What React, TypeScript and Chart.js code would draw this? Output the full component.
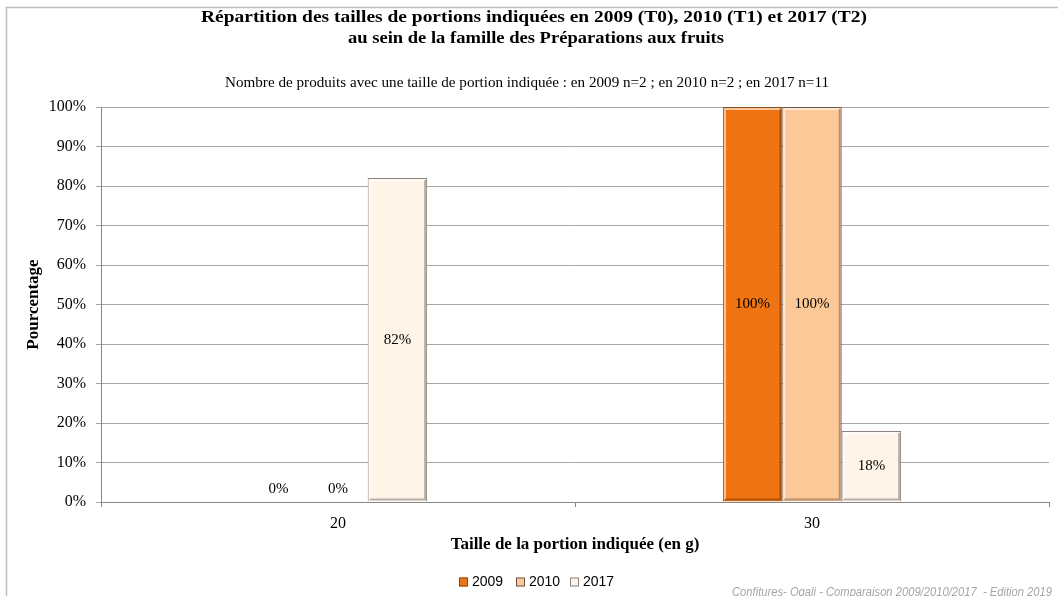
import { useEffect, useRef } from "react";
import { Chart, registerables } from "chart.js";

Chart.register(...registerables);

const categories = ["20", "30"];
const seriesLabels = ["2009", "2010", "2017"];
const values2009 = [0, 100];
const values2010 = [0, 100];
const values2017 = [82, 18];
const yTickValues = [0, 10, 20, 30, 40, 50, 60, 70, 80, 90, 100];
const titleLines = [
  "Répartition des tailles de portions indiquées en 2009 (T0), 2010 (T1) et 2017 (T2)",
  "au sein de la famille des Préparations aux fruits",
];
const subtitleText =
  "Nombre de produits avec une taille de portion indiquée : en 2009 n=2 ; en 2010 n=2 ; en 2017 n=11";
const footerText = "Confitures- Oqali - Comparaison 2009/2010/2017  - Edition 2019";
const yAxisTitle = "Pourcentage";
const xAxisTitle = "Taille de la portion indiquée (en g)";

const fillColors = ["#F07412", "#FDC897", "#FEF5E8"];
const borderColors = ["#8A4A12", "#6E5646", "#8C8078"];

const SERIF = "'Liberation Serif', 'DejaVu Serif', serif";
const SANS = "'Liberation Sans', Arial, sans-serif";

function drawFitted(
  ctx: CanvasRenderingContext2D,
  text: string,
  cx: number,
  cy: number,
  targetWidth: number,
  align: "center" | "right"
) {
  const w = ctx.measureText(text).width;
  const s = targetWidth / w;
  ctx.save();
  ctx.translate(cx, cy);
  ctx.scale(s, 1);
  ctx.textAlign = align;
  ctx.fillText(text, 0, 0);
  ctx.restore();
}

const decorPlugin = {
  id: "decor",
  beforeDraw(chart: any) {
    const ctx = chart.ctx as CanvasRenderingContext2D;
    ctx.save();
    ctx.fillStyle = "#FFFFFF";
    ctx.fillRect(0, 0, chart.width, chart.height);
    ctx.strokeStyle = "#BEBEBE";
    ctx.lineWidth = 1.5;
    ctx.strokeRect(6.5, 7.5, chart.width + 20, chart.height + 20);
    ctx.restore();
  },
  afterDraw(chart: any) {
    const ctx = chart.ctx as CanvasRenderingContext2D;
    ctx.save();
    ctx.fillStyle = "#000000";
    ctx.textBaseline = "middle";
    ctx.font = `bold 17px ${SERIF}`;
    drawFitted(ctx, titleLines[0], 534, 18, 666, "center");
    drawFitted(ctx, titleLines[1], 536, 39, 376, "center");
    ctx.font = `14px ${SERIF}`;
    drawFitted(ctx, subtitleText, 527, 83, 604, "center");

    // legend
    ctx.font = `14px ${SANS}`;
    ctx.textBaseline = "middle";
    ctx.textAlign = "left";
    const boxXs = [459, 516, 570];
    const ly = 582;
    chart.data.datasets.forEach((ds: any, i: number) => {
      const bx = boxXs[i];
      ctx.fillStyle = ds.backgroundColor;
      ctx.fillRect(bx, ly - 4.5, 9, 9);
      ctx.strokeStyle = ds.borderColor;
      ctx.lineWidth = 1;
      ctx.strokeRect(bx + 0.5, ly - 4, 8, 8);
      ctx.fillStyle = "#000000";
      ctx.fillText(ds.label, bx + 13, ly);
    });

    // footer
    ctx.font = `italic 13px ${SANS}`;
    ctx.fillStyle = "#A6A6A6";
    ctx.textBaseline = "alphabetic";
    drawFitted(ctx, footerText, 1052, 596, 320, "right");
    ctx.restore();
  },
  afterDatasetsDraw(chart: any) {
    const ctx = chart.ctx as CanvasRenderingContext2D;
    ctx.save();
    chart.data.datasets.forEach((ds: any, di: number) => {
      const meta = chart.getDatasetMeta(di);
      meta.data.forEach((el: any, i: number) => {
        const { x, y, base, width } = el.getProps(["x", "y", "base", "width"], true);
        const v = ds.data[i];
        const left = x - width / 2;
        const right = x + width / 2;
        const h = base - y;
        if (h > 4) {
          ctx.lineWidth = 2;
          ctx.strokeStyle = "rgba(255,255,255,0.6)";
          ctx.beginPath();
          ctx.moveTo(left + 2, base - 2);
          ctx.lineTo(left + 2, y + 2);
          ctx.lineTo(right - 2, y + 2);
          ctx.stroke();
          ctx.strokeStyle = "rgba(0,0,0,0.28)";
          ctx.beginPath();
          ctx.moveTo(right - 2, y + 2);
          ctx.lineTo(right - 2, base - 2);
          ctx.lineTo(left + 2, base - 2);
          ctx.stroke();
        }
        ctx.fillStyle = "#000000";
        ctx.font = `15px ${SERIF}`;
        ctx.textAlign = "center";
        ctx.textBaseline = "middle";
        const cy = h < 20 ? base - 13 : (y + base) / 2;
        ctx.fillText(`${v}%`, x, cy);
      });
    });
    ctx.restore();
  },
};

export default function App() {
  const canvasRef = useRef<HTMLCanvasElement | null>(null);

  useEffect(() => {
    document.body.style.margin = "0";
    const canvas = canvasRef.current;
    if (!canvas) return;
    const allValues = [values2009, values2010, values2017];
    const chart = new Chart(canvas, {
      type: "bar",
      data: {
        labels: categories,
        datasets: seriesLabels.map((label, i) => ({
          label,
          data: allValues[i],
          backgroundColor: fillColors[i],
          borderColor: borderColors[i],
          borderWidth: 1,
          categoryPercentage: 0.376,
          barPercentage: 1,
        })),
      },
      options: {
        responsive: false,
        animation: false,
        devicePixelRatio: 1,
        layout: { padding: { left: 0, top: 107, right: 9, bottom: 0 } },
        plugins: {
          legend: { display: false },
          title: { display: false },
          tooltip: { enabled: false },
        },
        scales: {
          x: {
            grid: {
              display: true,
              drawOnChartArea: false,
              drawTicks: true,
              tickLength: 5,
              color: "#868686",
              offset: true,
            },
            border: { color: "#868686", width: 1 },
            ticks: {
              padding: 7,
              color: "#000000",
              font: { family: SERIF, size: 16 },
            },
            title: {
              display: true,
              text: xAxisTitle,
              color: "#000000",
              font: { family: SERIF, size: 17, weight: "bold" },
              padding: { top: 0, bottom: 41 },
            },
            afterFit(scale: any) {
              scale.height = 94;
            },
          },
          y: {
            min: 0,
            max: 100,
            afterBuildTicks(scale: any) {
              scale.ticks = yTickValues.map((v) => ({ value: v }));
            },
            grid: {
              color: "#A6A6A6",
              drawTicks: true,
              tickLength: 5,
              lineWidth: 1,
            },
            border: { color: "#868686", width: 1 },
            ticks: {
              padding: 10,
              color: "#000000",
              font: { family: SERIF, size: 16 },
              callback: (v: any) => `${v}%`,
            },
            title: {
              display: true,
              text: yAxisTitle,
              color: "#000000",
              font: { family: SERIF, size: 17, weight: "bold" },
              padding: { top: 23, bottom: 0 },
            },
            afterFit(scale: any) {
              scale.width = 101;
            },
          },
        },
      },
      plugins: [decorPlugin],
    });
    return () => chart.destroy();
  }, []);

  return (
    <div style={{ position: "fixed", left: 0, top: 0, width: 1058, height: 596 }}>
      <canvas ref={canvasRef} width={1058} height={596} style={{ display: "block" }} />
    </div>
  );
}
